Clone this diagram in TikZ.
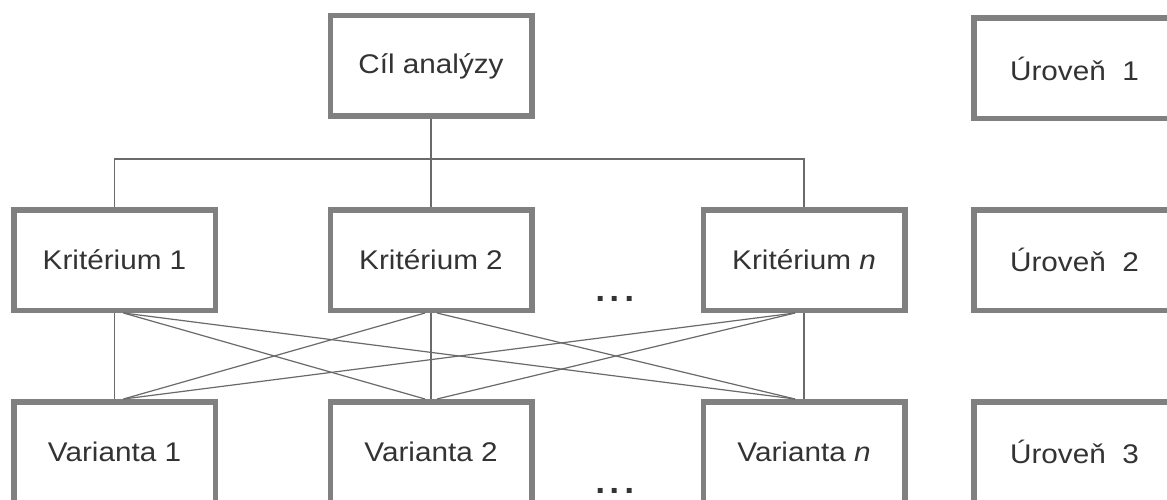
\documentclass[tikz,border=0pt]{standalone}
\usepackage{fontspec}
\setmainfont{Liberation Sans}[FakeStretch=1.1]
\usetikzlibrary{calc}
\definecolor{boxgray}{HTML}{808080}
\definecolor{linegray}{HTML}{6A6A6A}
\definecolor{txt}{HTML}{333333}
\begin{document}
\begin{tikzpicture}[x=1pt,y=-1pt,
  levelbox/.style={draw=boxgray, line width=5.5pt, fill=white,
    minimum width=201.5pt, minimum height=100.5pt, inner sep=0pt,
    text=txt, font=\fontsize{27}{30}\selectfont},
  conn/.style={draw=linegray, line width=1.2pt},
  dotsstyle/.style={text=txt, font=\fontsize{47}{50}\selectfont, inner sep=0pt, anchor=base}
]
\useasboundingbox (0,0) rectangle (1167,500);
\clip (0,0) rectangle (1167,500);
\fill[white] (0,0) rectangle (1167,500);

% connectors first (behind boxes)
\node[levelbox] (cil) at (431,66) {Cíl analýzy};
\node[levelbox] (k1) at (114.5,260) {Kritérium 1};
\node[levelbox] (k2) at (431,260) {Kritérium 2};
\node[levelbox] (kn) at (804,260) {Kritérium \textit{n}};
\node[levelbox] (v1) at (114.5,452) {Varianta 1};
\node[levelbox] (v2) at (431,452) {Varianta 2};
\node[levelbox] (vn) at (804,452) {Varianta \textit{n}};

\node[levelbox] (u1) at (1074.5,68.5) {Úroveň\ \ 1};
\node[levelbox] (u2) at (1074.5,260) {Úroveň\ \ 2};
\node[levelbox] (u3) at (1074.5,452) {Úroveň\ \ 3};

\node[dotsstyle] (d1) at (615,301) {...};
\node[dotsstyle] (d2) at (615,493) {...};

\coordinate (bus) at (431,159);
\draw[conn] (cil.south) -- (k2.north);
\draw[conn] (k1.north) |- (bus) -| (kn.north);

% vertical links
\draw[conn] (k1.south) -- (v1.north);
\draw[conn] (k2.south) -- (v2.north);
\draw[conn] (kn.south) -- (vn.north);

% crossing links
\draw[conn] ([xshift=9pt]k1.south) -- ([xshift=-6pt]v2.north);
\draw[conn] ([xshift=9pt]k1.south) -- ([xshift=-9pt]vn.north);
\draw[conn] ([xshift=-6pt]k2.south) -- ([xshift=9pt]v1.north);
\draw[conn] ([xshift=6pt]k2.south) -- ([xshift=-9pt]vn.north);
\draw[conn] ([xshift=-9pt]kn.south) -- ([xshift=9pt]v1.north);
\draw[conn] ([xshift=-9pt]kn.south) -- ([xshift=6pt]v2.north);
\end{tikzpicture}
\end{document}
